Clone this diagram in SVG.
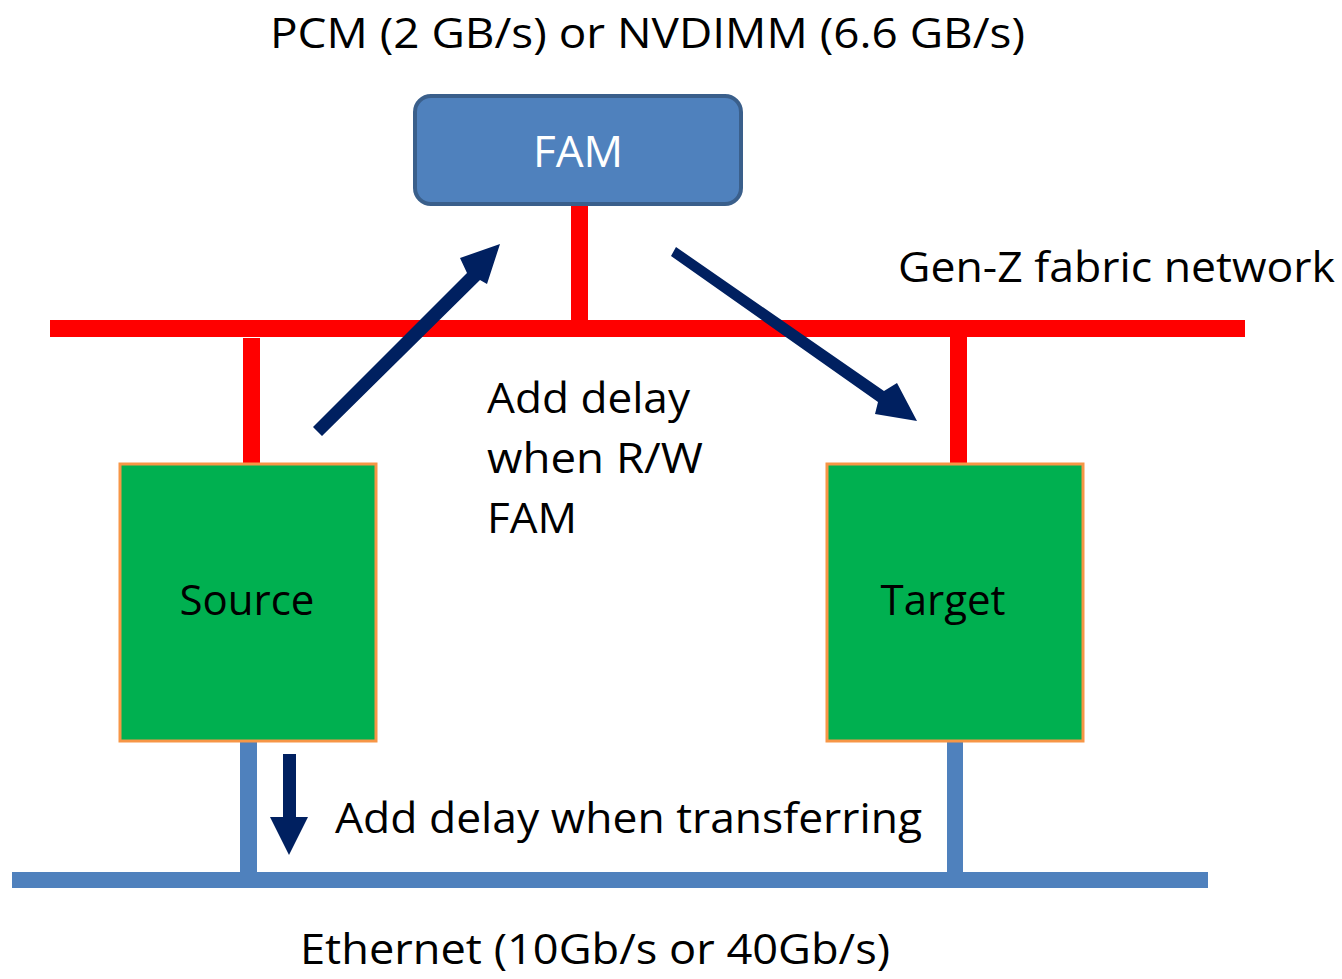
<svg xmlns="http://www.w3.org/2000/svg" width="1342" height="979" viewBox="0 0 1342 979">
  <style>
    text { font-family: "Open Sans", "Noto Sans", "DejaVu Sans", sans-serif; font-size: 42px; fill: #000; }
    .fabric { fill: #ff0000; }
    .eth { fill: #4f81bd; }
    .host { fill: #00b050; stroke: #f79646; stroke-width: 3; }
    .flow { fill: #002060; }
  </style>

  <!-- Gen-Z fabric bus and stubs -->
  <g id="fabric-network">
    <rect class="fabric" x="50" y="320" width="1195" height="17"/>
    <rect class="fabric" x="571" y="204" width="17" height="117"/>
    <rect class="fabric" x="243" y="338" width="17" height="130"/>
    <rect class="fabric" x="950" y="337" width="17" height="131"/>
  </g>

  <!-- Ethernet bus and stubs -->
  <g id="ethernet">
    <rect class="eth" x="12" y="872" width="1196" height="16"/>
    <rect class="eth" x="240" y="741" width="17" height="132"/>
    <rect class="eth" x="947" y="741" width="16" height="132"/>
  </g>

  <g id="fam">
    <rect x="415" y="96" width="326" height="108" rx="16" ry="16" fill="#4f81bd" stroke="#3a5f8b" stroke-width="4"/>
    <text x="578" y="167" text-anchor="middle" style="fill:#fff;font-size:44px">FAM</text>
  </g>

  <g id="source">
    <rect class="host" x="120" y="464" width="256" height="277"/>
    <text x="247" y="615" text-anchor="middle">Source</text>
  </g>

  <g id="target">
    <rect class="host" x="827" y="464" width="256" height="277"/>
    <text x="943" y="615" text-anchor="middle">Target</text>
  </g>

  <!-- Data-flow arrows -->
  <g id="connectors">
    <!-- source to FAM -->
    <polygon class="flow" points="313,427 467,273 460,258 500,244 487,284 480,280 322,436"/>
    <!-- FAM to target -->
    <polygon class="flow" points="671,256 676,247 884,391 897,383 917,421 875,414 878,402"/>
    <!-- source to ethernet -->
    <polygon class="flow" points="283,754 296,754 296,817 308,817 289,855 270,817 283,817"/>
  </g>

  <g id="labels">
    <text x="270" y="48" textLength="755" lengthAdjust="spacingAndGlyphs">PCM (2 GB/s) or NVDIMM (6.6 GB/s)</text>
    <text x="898" y="282" textLength="437" lengthAdjust="spacingAndGlyphs">Gen-Z fabric network</text>
    <text x="487" y="413" textLength="203" lengthAdjust="spacingAndGlyphs">Add delay</text>
    <text x="487" y="473" textLength="216" lengthAdjust="spacingAndGlyphs">when R/W</text>
    <text x="487" y="533" textLength="90" lengthAdjust="spacingAndGlyphs">FAM</text>
    <text x="335" y="833" textLength="587" lengthAdjust="spacingAndGlyphs">Add delay when transferring</text>
    <text x="300" y="964" textLength="590" lengthAdjust="spacingAndGlyphs">Ethernet (10Gb/s or 40Gb/s)</text>
  </g>
</svg>
